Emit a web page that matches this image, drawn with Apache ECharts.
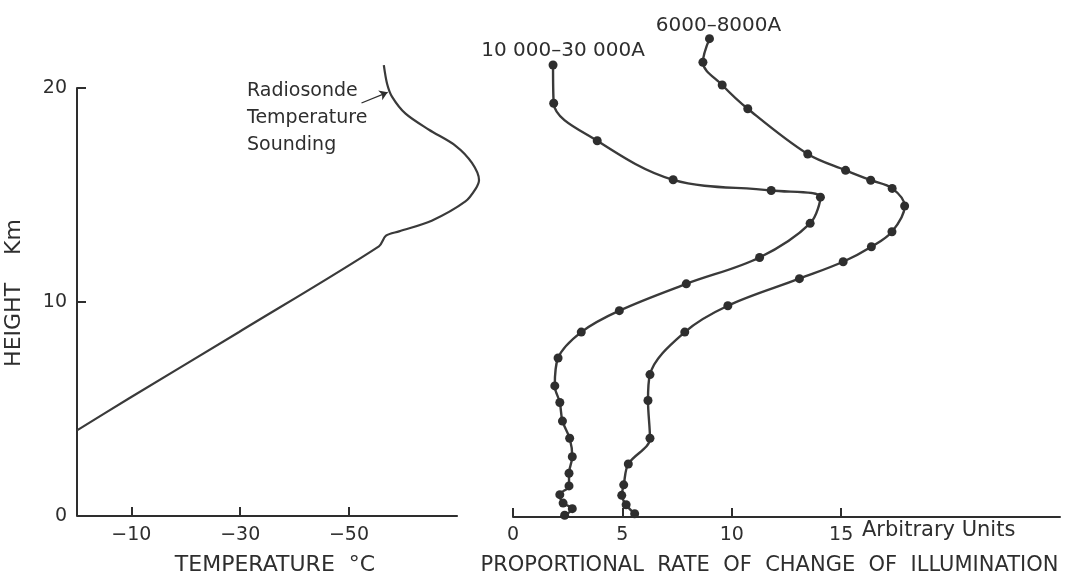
<!DOCTYPE html>
<html>
<head>
<meta charset="utf-8">
<title>Height profiles</title>
<script src="https://cdn.jsdelivr.net/npm/echarts@6/dist/echarts.min.js"></script>
<style>
  html, body { margin: 0; padding: 0; background: #fff; }
  #chart { width: 1068px; height: 581px; }
</style>
</head>
<body>
<div id="chart"></div>
<script>
// radiosonde temperature sounding (deg C against km)
var tempC = [0, -9.6, -29.8, -55.5, -56.8, -59.2, -65.2, -71.4, -73.3, -73.9, -72.6, -69.6, -64.7, -60.4, -57.9, -57.0, -56.4];
var tempH = [4.0, 5.5, 8.6, 12.6, 13.1, 13.3, 13.8, 14.7, 15.3, 15.7, 16.5, 17.3, 18.05, 18.8, 19.6, 20.2, 21.07];

// proportional rate of change of illumination, top point first
var nameA = '10 000\u201330 000A';
var rateA = [1.83, 1.86, 3.85, 7.32, 11.8, 14.05, 13.58, 11.27, 7.92, 4.86, 3.12, 2.06, 1.91, 2.14, 2.26, 2.59, 2.71, 2.56, 2.56, 2.14, 2.29, 2.71, 2.36];
var heightA = [21.07, 19.29, 17.54, 15.72, 15.22, 14.91, 13.69, 12.1, 10.87, 9.62, 8.62, 7.41, 6.11, 5.34, 4.47, 3.67, 2.81, 2.04, 1.45, 1.04, 0.65, 0.39, 0.08];

var nameB = '6000\u20138000A';
var rateB = [8.98, 8.68, 9.56, 10.73, 13.47, 15.2, 16.35, 17.33, 17.9, 17.32, 16.38, 15.09, 13.09, 9.82, 7.85, 6.26, 6.17, 6.26, 5.27, 5.06, 4.97, 5.17, 5.56];
var heightB = [22.3, 21.2, 20.14, 19.03, 16.92, 16.16, 15.7, 15.32, 14.5, 13.3, 12.6, 11.9, 11.11, 9.85, 8.62, 6.64, 5.43, 3.67, 2.47, 1.5, 1.01, 0.57, 0.15];

var tempTicks = [-10, -30, -50];
var tempAxisEnd = -70;
var heightTicks = [0, 10, 20];
var rateTicks = [0, 5, 10, 15];

var ink = '#2e2e2e';
var font = 'DejaVu Sans';

function pairs(xs, ys, label) {
  return xs.map(function (x, i) {
    var item = { value: [x, ys[i]] };
    if (i === 0 && label) {
      item.label = label;
    }
    return item;
  });
}

var myChart = echarts.init(document.getElementById('chart'));

var option = {
  backgroundColor: '#fff',
  animation: false,
  textStyle: { fontFamily: font, color: ink },
  grid: [
    // the sounding bulges past the drawn axis end, so the scale runs to -75
    { left: 77, top: 88, width: 408, height: 431 },
    { left: 513, top: 88, width: 547, height: 430 }
  ],
  xAxis: [
    {
      gridIndex: 0,
      type: 'value',
      min: -75,
      max: 0,
      inverse: true,
      splitLine: { show: false },
      axisLine: { show: false },
      axisTick: { inside: true, length: 9, customValues: tempTicks, lineStyle: { color: ink, width: 2 } },
      axisLabel: {
        customValues: tempTicks,
        margin: 10,
        fontSize: 19,
        color: ink,
        formatter: function (v) { return '\u2212' + Math.abs(v); }
      },
      name: 'TEMPERATURE  \u00b0C',
      nameLocation: 'middle',
      nameGap: 38,
      nameTextStyle: { fontSize: 22, color: ink, padding: [0, 12, 0, 0] }
    },
    {
      gridIndex: 1,
      type: 'value',
      min: 0,
      max: 25,
      splitLine: { show: false },
      axisLine: { lineStyle: { color: ink, width: 2 } },
      axisTick: { inside: true, length: 9, customValues: rateTicks, lineStyle: { color: ink, width: 2 } },
      axisLabel: { customValues: rateTicks, margin: 9, fontSize: 19, color: ink },
      name: 'PROPORTIONAL  RATE  OF  CHANGE  OF  ILLUMINATION',
      nameLocation: 'middle',
      nameGap: 38,
      nameTextStyle: { fontSize: 21, color: ink, padding: [0, 34, 0, 0] }
    }
  ],
  yAxis: [
    {
      gridIndex: 0,
      type: 'value',
      min: 0,
      max: 20,
      splitLine: { show: false },
      axisLine: { lineStyle: { color: ink, width: 2 } },
      axisTick: { inside: true, length: 9, customValues: [10, 20], lineStyle: { color: ink, width: 2 } },
      axisLabel: { customValues: heightTicks, margin: 10, fontSize: 19, color: ink },
      name: 'HEIGHT    Km',
      nameLocation: 'middle',
      nameRotate: 90,
      nameGap: 52,
      nameTextStyle: { fontSize: 22, color: ink, padding: [0, 0, 0, 18] }
    },
    {
      gridIndex: 1,
      type: 'value',
      min: 0,
      max: 20,
      show: false
    }
  ],
  graphic: [
    {
      type: 'text',
      left: 247,
      top: 78,
      style: {
        text: 'Radiosonde\nTemperature\nSounding',
        font: '19px ' + font,
        lineHeight: 27,
        fill: ink
      }
    },
    {
      type: 'text',
      left: 862,
      top: 520,
      style: { text: 'Arbitrary Units', font: '21px ' + font, fill: ink }
    }
  ],
  series: [
    {
      name: 'Radiosonde',
      type: 'line',
      xAxisIndex: 0,
      yAxisIndex: 0,
      clip: false,
      smooth: 0.3,
      showSymbol: false,
      lineStyle: { color: '#3a3a3a', width: 2.2 },
      data: pairs(tempC, tempH),
      markLine: {
        silent: true,
        symbol: ['none', 'arrow'],
        symbolSize: 8,
        label: { show: false },
        lineStyle: { type: 'solid', color: ink, width: 1.3 },
        data: [
          [{ coord: [-52.3, 19.3] }, { coord: [-57.1, 19.8] }],
          // temperature axis line, drawn only to -70
          [{ coord: [0, 0], symbol: 'none' }, { coord: [tempAxisEnd, 0], symbol: 'none', lineStyle: { width: 2 } }]
        ]
      }
    },
    {
      name: nameA,
      type: 'line',
      xAxisIndex: 1,
      yAxisIndex: 1,
      clip: false,
      smooth: 0.35,
      symbol: 'circle',
      symbolSize: 9,
      itemStyle: { color: ink },
      lineStyle: { color: '#3a3a3a', width: 2.4 },
      data: pairs(rateA, heightA, {
        show: true, position: 'top', distance: 4, offset: [10, 4],
        formatter: nameA, fontSize: 20, color: ink
      })
    },
    {
      name: nameB,
      type: 'line',
      xAxisIndex: 1,
      yAxisIndex: 1,
      clip: false,
      smooth: 0.35,
      symbol: 'circle',
      symbolSize: 9,
      itemStyle: { color: ink },
      lineStyle: { color: '#3a3a3a', width: 2.4 },
      data: pairs(rateB, heightB, {
        show: true, position: 'top', distance: 3, offset: [9, 5],
        formatter: nameB, fontSize: 20, color: ink
      })
    }
  ]
};

myChart.setOption(option, true);
</script>
</body>
</html>
